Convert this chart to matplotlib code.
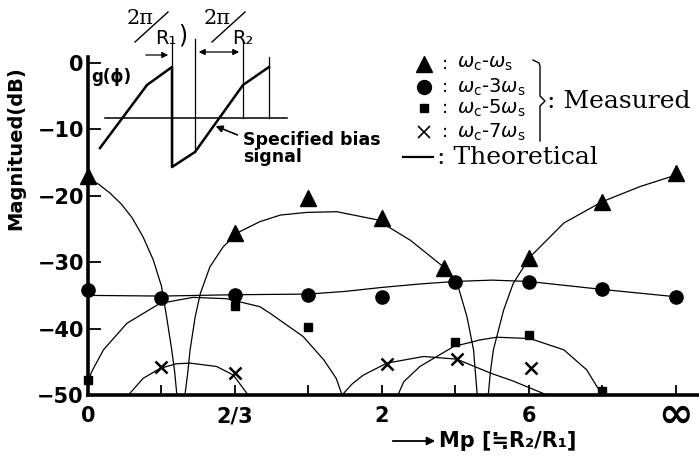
import matplotlib
matplotlib.use("Agg")
import matplotlib.pyplot as plt

plt.rcParams["font.family"] = ["DejaVu Sans"]
plt.rcParams["mathtext.fontset"] = "dejavusans"

# x axis uses evenly spaced slots: 0 -> Mp=0, 2 -> 2/3, 4 -> 2, 6 -> 6, 8 -> infinity
tick_pos = [0, 1, 2, 3, 4, 5, 6, 7, 8]
tick_labels = ["0", "", "2/3", "", "2", "", "6", "", ""]
inf_label = "∞"
y_ticks = [0, -10, -20, -30, -40, -50]
y_tick_labels = ["0", "−10", "−20", "−30", "−40", "−50"]

# measured components (dB)
tri_x = [0, 2, 3, 4, 4.85, 6, 7, 8]
tri_db = [-17.0, -25.6, -20.4, -23.4, -30.9, -29.3, -20.9, -16.6]
circ_x = [0, 1, 2, 3, 4, 5, 6, 7, 8]
circ_db = [-34.2, -35.4, -35.0, -35.0, -35.2, -33.0, -33.0, -34.0, -35.2]
sq_x = [0, 2, 3, 5, 6, 7]
sq_db = [-47.8, -36.6, -39.8, -42.0, -41.0, -49.4]
x7_x = [1, 2, 4.07, 5.02, 6.03]
x7_db = [-45.8, -46.7, -45.4, -44.6, -46.0]

# theoretical curves
th_a_x = [0, 0.15, 0.3, 0.45, 0.6, 0.75, 0.89, 1.0, 1.07, 1.14, 1.18, 1.21]
th_a_db = [-17.3, -18.3, -19.6, -21.2, -23.3, -26.2, -29.7, -33.6, -38.2, -43.2, -46.5, -50]
th_b_x = [1.32, 1.36, 1.39, 1.46, 1.53, 1.66, 1.84, 2.03, 2.34, 2.62, 2.98, 3.39,
          3.93, 4.39, 4.84, 5.02, 5.16, 5.25, 5.3]
th_b_db = [-50, -46.5, -43.2, -38.2, -34.7, -30.7, -27.7, -25.6, -23.9, -22.9, -22.5, -22.4,
           -23.6, -26.7, -30.7, -32.9, -38.2, -43.2, -50]
th_c_x = [5.45, 5.48, 5.52, 5.66, 5.79, 6.02, 6.48, 7.0, 7.52, 8.0]
th_c_db = [-50, -46.5, -43.2, -37.2, -33.2, -29.2, -24.1, -20.9, -18.6, -16.9]
th_d_x = [0, 1, 2, 3, 3.5, 4, 4.5, 5, 5.5, 6, 7, 8]
th_d_db = [-35.0, -35.1, -34.9, -34.8, -34.4, -33.8, -33.3, -32.9, -32.7, -32.9, -34.1, -35.2]
th_e_x = [0, 0.05, 0.21, 0.53, 0.98, 1.43, 1.89, 2.34, 2.48, 2.93, 3.21, 3.38, 3.46]
th_e_db = [-48, -46.5, -43.2, -39.2, -36.2, -35.3, -35.5, -36.7, -37.7, -41.2, -44.7, -47.5, -50]
th_f_x = [4.22, 4.3, 4.52, 4.98, 5.34, 5.57, 6.02, 6.48, 6.79, 7.0]
th_f_db = [-50, -48, -45.7, -42.7, -41.7, -41.3, -41.5, -43.2, -46.2, -50]
th_g_x = [0.55, 0.75, 0.98, 1.2, 1.39, 1.75, 1.98, 2.18]
th_g_db = [-50, -47.5, -46.0, -45.3, -45.2, -45.7, -47.0, -50]
th_h_x = [3.46, 3.6, 3.75, 4.07, 4.57, 5.02, 5.48, 5.79, 6.25]
th_h_db = [-50, -48.3, -47.0, -45.2, -44.2, -44.6, -46.7, -47.9, -50]

theory = [(th_a_x, th_a_db), (th_b_x, th_b_db), (th_c_x, th_c_db), (th_d_x, th_d_db),
          (th_e_x, th_e_db), (th_f_x, th_f_db), (th_g_x, th_g_db), (th_h_x, th_h_db)]

legend_labels = [r"$\omega_{\rm c}$-$\omega_{\rm s}$", r"$\omega_{\rm c}$-3$\omega_{\rm s}$",
                 r"$\omega_{\rm c}$-5$\omega_{\rm s}$", r"$\omega_{\rm c}$-7$\omega_{\rm s}$"]

# bias signal sketch g(phi), drawn in figure pixel units
bias_x = [100, 147, 172, 172, 195, 243, 269]
bias_y = [148, 85, 67, 167, 152, 85, 67]


fig = plt.figure(figsize=(6.99, 4.59), dpi=100)
ax = fig.add_axes([88 / 699, 64 / 459, 611 / 699, 338 / 459])
ax.set_xlim(0, 8.32)
ax.set_ylim(-50, 0.9)

for xs, ys in theory:
    ax.plot(xs, ys, color="black", lw=0.9)

ax.plot(tri_x, tri_db, ls="none", marker="^", ms=11, color="black", clip_on=False, zorder=4)
ax.plot(circ_x, circ_db, ls="none", marker="o", ms=9.5, color="black", clip_on=False, zorder=4)
ax.plot(sq_x, sq_db, ls="none", marker="s", ms=6, color="black", clip_on=False, zorder=4)
ax.plot(x7_x, x7_db, ls="none", marker="x", ms=8, mew=1.8, color="black", clip_on=False, zorder=4)

for side in ["top", "right"]:
    ax.spines[side].set_visible(False)
ax.spines["left"].set_linewidth(2.6)
ax.spines["bottom"].set_linewidth(2.6)

ax.set_xticks(tick_pos)
ax.set_xticklabels(tick_labels)
ax.set_yticks(y_ticks)
ax.set_yticklabels(y_tick_labels)
ax.tick_params(axis="y", direction="in", length=9, width=1.3, pad=3, labelsize=15)
ax.tick_params(axis="x", direction="in", length=7, width=1.3, pad=8, labelsize=15)
for lbl in ax.get_xticklabels() + ax.get_yticklabels():
    lbl.set_fontweight("bold")
# the infinity label is drawn larger than the other tick labels
ax.text(tick_pos[-1], -53.0, inf_label, fontsize=30, fontweight="bold",
        ha="center", va="center", clip_on=False)

ax.set_ylabel("Magnitued(dB)", fontsize=14, fontweight="bold")
ax.yaxis.set_label_coords(-0.103, 0.73)

# overlay in pixel units for the sketch, legend and axis caption
ov = fig.add_axes([0, 0, 1, 1])
ov.set_xlim(0, 699)
ov.set_ylim(459, 0)
ov.axis("off")

ov.plot([105, 287], [118, 118], color="black", lw=1.1)
ov.plot(bias_x, bias_y, color="black", lw=1.8)
for vx, top, bottom in [(172, 40, 167), (195, 39, 152), (243, 40, 118), (269, 57, 118)]:
    ov.plot([vx, vx], [top, bottom], color="black", lw=0.9)
ov.annotate("", xy=(171, 55), xytext=(143, 55),
            arrowprops=dict(arrowstyle="-|>", color="black", lw=0.9, mutation_scale=9))
ov.annotate("", xy=(242, 52), xytext=(196, 52),
            arrowprops=dict(arrowstyle="<|-|>", color="black", lw=0.9, mutation_scale=9))
for cx, sub in [(150, "₁"), (227, "₂")]:
    ov.text(cx - 10, 18, "2π", fontsize=15, family="DejaVu Serif", ha="center", va="center")
    ov.plot([cx - 15, cx + 18], [42, 12], color="black", lw=1.0)
    ov.text(cx + 16, 38, "R" + sub, fontsize=14, ha="center", va="center")
ov.text(183, 35, ")", fontsize=17, ha="center", va="center")
ov.text(111, 77, "g(ϕ)", fontsize=12, fontweight="bold", ha="center", va="center")
ov.annotate("", xy=(213, 125), xytext=(240, 136),
            arrowprops=dict(arrowstyle="-|>", color="black", lw=1.2, mutation_scale=10))
ov.text(243, 140, "Specified bias", fontsize=12.5, fontweight="bold", ha="left", va="center")
ov.text(243, 157, "signal", fontsize=12.5, fontweight="bold", ha="left", va="center")

# legend
rows_y = [64, 87, 108, 132]
ov.plot([424], [rows_y[0]], marker="^", ms=11, color="black")
ov.plot([424], [rows_y[1]], marker="o", ms=10, color="black")
ov.plot([424], [rows_y[2]], marker="s", ms=6, color="black")
ov.plot([424], [rows_y[3]], marker="x", ms=8, mew=1.2, color="black")
for ry, lab in zip(rows_y, legend_labels):
    ov.text(445, ry, ":", fontsize=13, ha="center", va="center")
    ov.text(457, ry, lab, fontsize=14, ha="left", va="center")
ov.plot([533, 539, 540, 540, 545, 540, 540, 540],
        [60, 63, 66, 96, 101, 106, 136, 141], color="black", lw=1.0)
ov.text(547, 101, ": Measured", fontsize=18, family="DejaVu Serif", ha="left", va="center")
ov.plot([403, 433], [157, 157], color="black", lw=1.6)
ov.text(437, 158, ": Theoretical", fontsize=18, family="DejaVu Serif", ha="left", va="center")

# x axis caption
ov.annotate("", xy=(438, 441), xytext=(390, 441),
            arrowprops=dict(arrowstyle="-|>", color="black", lw=1.3, mutation_scale=12))
ov.text(439, 441, "Mp [≒R₂/R₁]", fontsize=15, fontweight="bold", ha="left", va="center")

fig.savefig("out.png", dpi=100)
